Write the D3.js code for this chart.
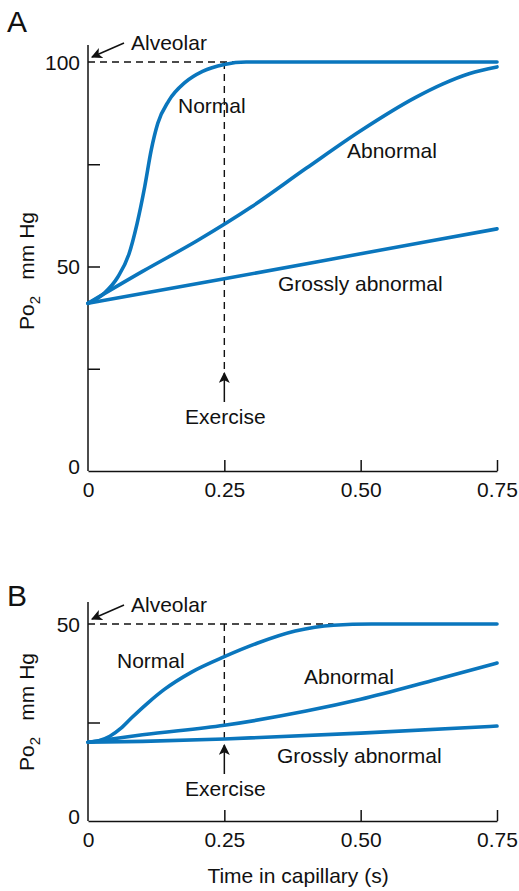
<!DOCTYPE html>
<html>
<head>
<meta charset="utf-8">
<script src="https://cdn.jsdelivr.net/npm/d3@7"></script>
<style>
  body { margin: 0; background: #fff; }
  svg text { font-family: "Liberation Sans", Arial, sans-serif; fill: #111; }
</style>
</head>
<body>
<section></section>
<script>
// values: [time s, Po2 mm Hg]
const normalA = [[0, 41], [0.03, 43.5], [0.055, 47.5], [0.075, 53], [0.09, 60.5], [0.104, 69.5],
  [0.116, 78.5], [0.128, 85], [0.148, 90.5], [0.178, 95], [0.21, 97.7], [0.25, 99.4], [0.29, 100],
  [0.35, 100], [0.75, 100]];
const abnormalA = [[0, 41], [0.1, 48.8], [0.2, 56.3], [0.3, 64.6], [0.4, 74], [0.5, 83.2],
  [0.6, 91.3], [0.65, 94.6], [0.7, 97.2], [0.75, 98.8]];
const grossA = [[0, 41], [0.25, 47], [0.5, 53.1], [0.75, 59.2]];

const normalB = [[0, 20], [0.02, 20.4], [0.04, 21.5], [0.06, 23.5], [0.08, 26.2], [0.11, 30],
  [0.14, 33.4], [0.19, 37.8], [0.25, 41.7], [0.31, 45.1], [0.38, 48.2], [0.45, 49.7], [0.52, 50],
  [0.58, 50], [0.75, 50]];
const abnormalB = [[0, 20], [0.1, 21.9], [0.25, 24.3], [0.4, 27.9], [0.5, 30.9], [0.63, 35.6], [0.75, 40.1]];
const grossB = [[0, 20], [0.1, 20.2], [0.25, 20.8], [0.5, 22.3], [0.75, 24.1]];

const xTicks = [0, 0.25, 0.5, 0.75];
const xTickLabels = ['0', '0.25', '0.50', '0.75'];
const yTicksA = [0, 25, 50, 75, 100];
const yTicksB = [0, 25, 50];
const alveolarA = 100, alveolarB = 50;
const exerciseT = 0.25;

const blue = '#0a76bd';
const fs = '21px';

const svg = d3.select('section')
  .append('svg')
  .attr('width', 519)
  .attr('height', 891);

const defs = svg.append('defs');
defs.append('marker')
  .attr('id', 'arr')
  .attr('viewBox', '0 0 10 10')
  .attr('refX', 9).attr('refY', 5)
  .attr('markerWidth', 11).attr('markerHeight', 11)
  .attr('markerUnits', 'userSpaceOnUse')
  .attr('orient', 'auto')
  .append('path')
  .attr('d', 'M0,0 L10,5 L0,10 L2.5,5 Z')
  .attr('fill', '#111');

function panel(opts) {
  const x = d3.scaleLinear().domain([0, 0.75]).range([88, 497]);
  const y = d3.scaleLinear().domain([0, opts.ymax]).range([opts.y0, opts.ytop]);
  const g = svg.append('g');

  // dashed guides
  g.append('line')
    .attr('x1', x(0)).attr('x2', x(opts.dashEnd))
    .attr('y1', y(opts.alveolar)).attr('y2', y(opts.alveolar))
    .attr('stroke', '#111').attr('stroke-width', 1.4).attr('stroke-dasharray', '7,5');
  g.append('line')
    .attr('x1', x(exerciseT)).attr('x2', x(exerciseT))
    .attr('y1', y(opts.alveolar)).attr('y2', opts.exY - 3)
    .attr('stroke', '#111').attr('stroke-width', 1.4).attr('stroke-dasharray', '7,5');

  // axes
  const yaxis = d3.axisLeft(y)
    .tickValues(opts.yticks)
    .tickSize(-12).tickSizeOuter(0).tickPadding(8)
    .tickFormat(d => (d % 50 === 0 ? d : ''));
  const ya = g.append('g').attr('transform', `translate(${x(0)},0)`).call(yaxis);
  ya.select('.domain').attr('d', `M0,${opts.axisTop}V${opts.y0}`);
  ya.selectAll('.tick line').filter(d => d === 0 || d === opts.ymax).remove();
  ya.selectAll('.tick text').style('font-size', fs).attr('dy', '0.35em');
  ya.selectAll('.tick').filter(d => d === 0).select('text').attr('dy', '0.1em');

  const xaxis = d3.axisBottom(x)
    .tickValues(xTicks)
    .tickSize(-11).tickSizeOuter(0).tickPadding(12)
    .tickFormat((d, i) => xTickLabels[i]);
  const xa = g.append('g').attr('transform', `translate(0,${opts.y0})`).call(xaxis);
  xa.selectAll('.tick line').filter(d => d === 0).remove();
  xa.selectAll('.tick text').style('font-size', fs).attr('dy', '0.65em');
  g.selectAll('.domain, .tick line').attr('stroke', '#111').attr('stroke-width', 1.5);

  // curves
  const line = d3.line().x(d => x(d[0])).y(d => y(d[1])).curve(d3.curveMonotoneX);
  g.selectAll('.curve')
    .data(opts.series)
    .enter()
    .append('path')
    .attr('class', 'curve')
    .attr('d', line)
    .attr('fill', 'none')
    .attr('stroke', blue)
    .attr('stroke-width', 3.6)
    .attr('stroke-linecap', 'round');

  // exercise arrow
  g.append('line')
    .attr('x1', x(exerciseT)).attr('x2', x(exerciseT))
    .attr('y1', opts.exY + 29).attr('y2', opts.exY)
    .attr('stroke', '#111').attr('stroke-width', 1.5)
    .attr('marker-end', 'url(#arr)');
  g.append('text')
    .attr('x', x(exerciseT) + 1).attr('y', opts.exY + 51)
    .attr('text-anchor', 'middle').style('font-size', fs)
    .text('Exercise');

  // alveolar arrow
  g.append('line')
    .attr('x1', 124).attr('y1', y(opts.alveolar) - 19)
    .attr('x2', 92).attr('y2', y(opts.alveolar) - 5)
    .attr('stroke', '#111').attr('stroke-width', 1.5)
    .attr('marker-end', 'url(#arr)');
  g.append('text')
    .attr('x', 131).attr('y', y(opts.alveolar) - 12)
    .style('font-size', fs).text('Alveolar');

  // panel letter
  g.append('text').attr('x', 7).attr('y', opts.letterY)
    .style('font-size', '30px').text(opts.letter);

  // curve labels
  opts.labels.forEach(l => {
    g.append('text').attr('x', l[1]).attr('y', l[2])
      .style('font-size', fs).text(l[0]);
  });

  // y axis title
  const yt = g.append('text')
    .attr('transform', `translate(34,${opts.ylabelY}) rotate(-90)`)
    .attr('text-anchor', 'middle')
    .style('font-size', fs);
  yt.append('tspan').style('font-size', fs).text('Po');
  yt.append('tspan').attr('dy', 6).style('font-size', '15px').text('2');
  yt.append('tspan').attr('dy', -6).style('font-size', fs).text('\u2002 mm Hg');
}

panel({
  ymax: 100, y0: 471, ytop: 62, axisTop: 45, yticks: yTicksA, alveolar: alveolarA,
  dashEnd: 0.29, exY: 373, letter: 'A', letterY: 32, ylabelY: 271,
  series: [normalA, abnormalA, grossA],
  labels: [['Normal', 178, 113], ['Abnormal', 347, 158], ['Grossly abnormal', 278, 291]]
});

panel({
  ymax: 50, y0: 821, ytop: 624, axisTop: 602, yticks: yTicksB, alveolar: alveolarB,
  dashEnd: 0.45, exY: 745, letter: 'B', letterY: 606, ylabelY: 712,
  series: [normalB, abnormalB, grossB],
  labels: [['Normal', 117, 668], ['Abnormal', 304, 684], ['Grossly abnormal', 277, 763]]
});

svg.append('text')
  .attr('x', 298).attr('y', 883)
  .attr('text-anchor', 'middle')
  .style('font-size', fs)
  .text('Time in capillary (s)');
</script>
</body>
</html>
